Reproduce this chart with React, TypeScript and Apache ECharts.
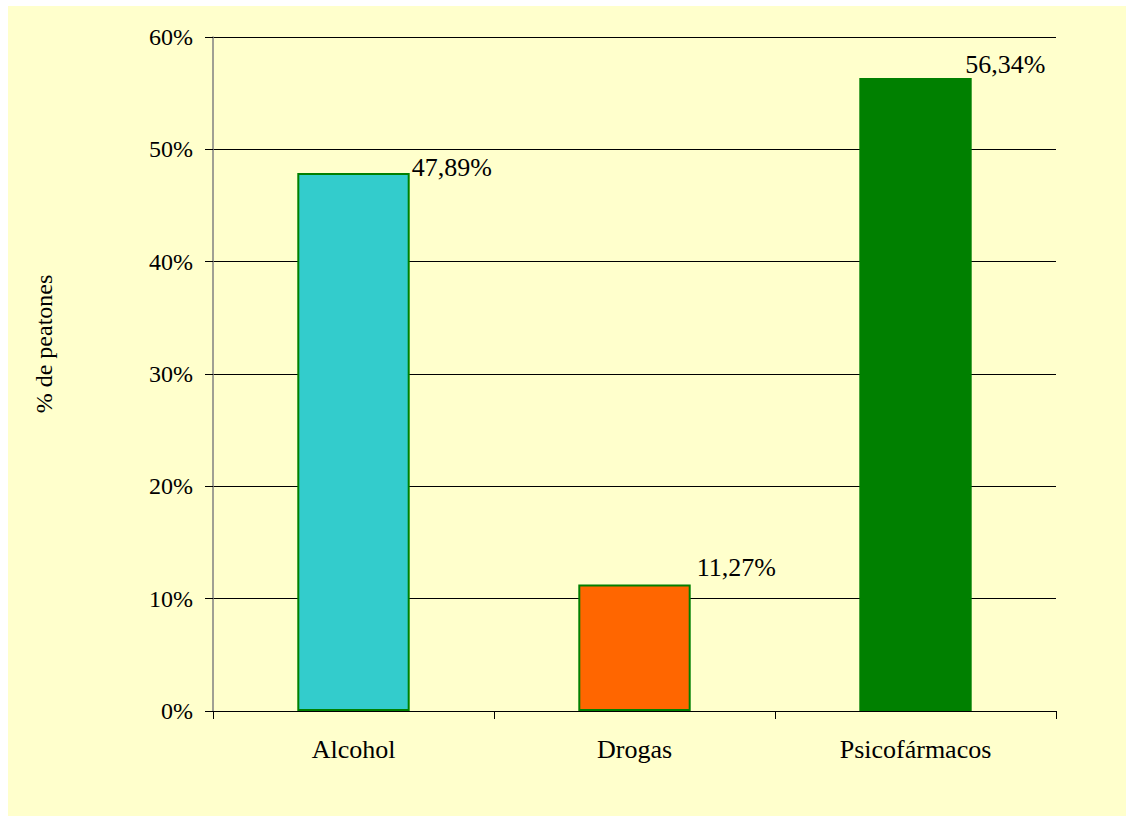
import React, { useEffect, useRef } from "react";
import * as echarts from "echarts";

const categories = ["Alcohol", "Drogas", "Psicofármacos"];
const values = [47.89, 11.27, 56.34];
const barColors = ["#33CCCC", "#FF6600", "#008000"];
const labelOffsets = [[2, -5.5], [6, -16.5], [-6.5, -14]];
const yTicks = [0, 10, 20, 30, 40, 50, 60];
const yTitle = "% de peatones";

const FONT = "Liberation Serif";

export default function App() {
  const ref = useRef<HTMLDivElement>(null);
  useEffect(() => {
    if (!ref.current) return;
    const chart = echarts.init(ref.current, undefined, { renderer: "svg" });
    chart.setOption({
      animation: false,
      backgroundColor: "#FFFFCC",
      textStyle: { fontFamily: FONT },
      grid: { left: 205, top: 31, right: 70, bottom: 105, containLabel: false },
      graphic: [
        {
          type: "text",
          x: 36,
          y: 338,
          rotation: Math.PI / 2,
          style: {
            text: yTitle,
            fontFamily: FONT,
            fontSize: 24,
            fill: "#000",
            align: "center",
            verticalAlign: "middle",
          },
        },
      ],
      xAxis: {
        type: "category",
        data: categories,
        axisLine: { lineStyle: { color: "#000", width: 1 } },
        axisTick: { show: true, length: 8, alignWithLabel: false, lineStyle: { color: "#000" } },
        axisLabel: { color: "#000", fontSize: 26, fontFamily: FONT, margin: 25 },
      },
      yAxis: {
        type: "value",
        min: yTicks[0],
        max: yTicks[yTicks.length - 1],
        interval: 10,
        axisLine: { show: true, lineStyle: { color: "#808080", width: 1.5 } },
        axisTick: { show: true, length: 8, lineStyle: { color: "#000" } },
        axisLabel: {
          color: "#000",
          fontSize: 24,
          fontFamily: FONT,
          margin: 20,
          formatter: (v: number) => `${v}%`,
        },
        splitLine: { show: true, lineStyle: { color: "#000", width: 1 } },
      },
      series: [
        {
          type: "bar",
          barWidth: "40%",
          data: values.map((v, i) => ({
            value: v,
            itemStyle: {
              color: barColors[i],
              borderColor: "#008000",
              borderWidth: i === 2 ? 0 : 2,
            },
            label: { offset: labelOffsets[i] },
          })),
          label: {
            show: true,
            position: ["100%", 0],
            align: "left",
            verticalAlign: "middle",
            color: "#000",
            fontSize: 26,
            fontFamily: FONT,
            formatter: (p: any) => `${p.value.toFixed(2).replace(".", ",")}%`,
          },
        },
      ],
    });
    return () => chart.dispose();
  }, []);
  return (
    <div
      ref={ref}
      style={{ position: "absolute", left: 8, top: 6, width: 1118, height: 810 }}
    />
  );
}
